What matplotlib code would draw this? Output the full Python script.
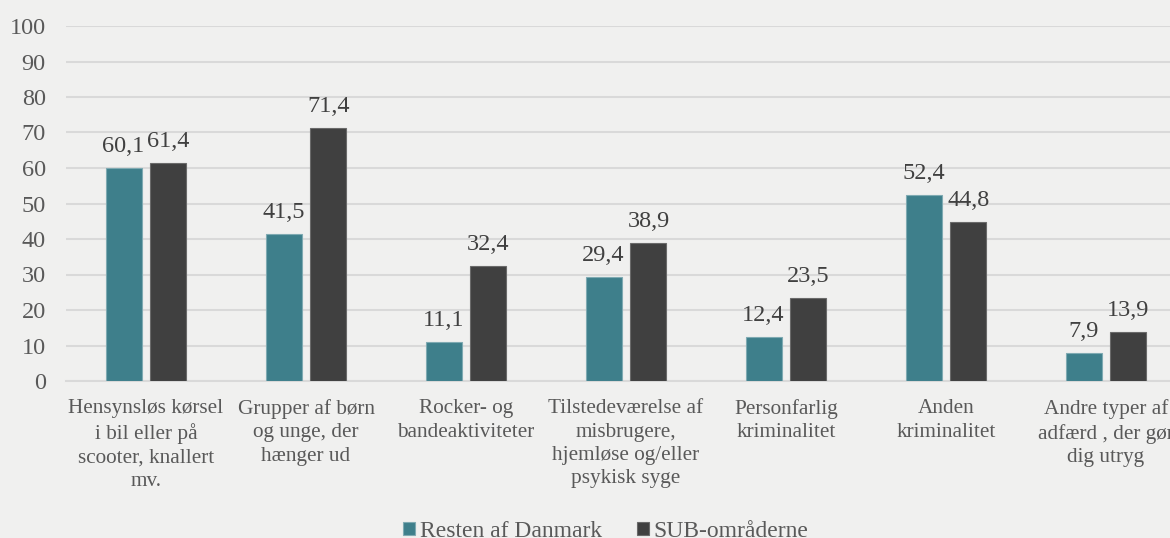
import matplotlib
matplotlib.use("Agg")
import matplotlib.pyplot as plt
import numpy as np

categories = [
    "Hensynsløs kørsel\ni bil eller på\nscooter, knallert\nmv.",
    "Grupper af børn\nog unge, der\nhænger ud",
    "Rocker- og\nbandeaktiviteter",
    "Tilstedeværelse af\nmisbrugere,\nhjemløse og/eller\npsykisk syge",
    "Personfarlig\nkriminalitet",
    "Anden\nkriminalitet",
    "Andre typer af\nadfærd , der gør\ndig utryg",
]
series_names = ["Resten af Danmark", "SUB-områderne"]
resten = [60.1, 41.5, 11.1, 29.4, 12.4, 52.4, 7.9]
sub = [61.4, 71.4, 32.4, 38.9, 23.5, 44.8, 13.9]
yticks = [0, 10, 20, 30, 40, 50, 60, 70, 80, 90, 100]

bg = "#F0F0EF"
teal = "#3E7F8B"
dark = "#404040"
txt = "#595959"

plt.rcParams["font.family"] = ["Liberation Serif", "DejaVu Serif"]

fig = plt.figure(figsize=(11.70, 5.38), dpi=100, facecolor=bg)
ax = fig.add_axes([66/1170, 157/538, 1120/1170, 355/538], facecolor=bg)

x = np.arange(len(categories))
w = 0.225
off = 0.1405
b1 = ax.bar(x - off, resten, w, color=teal, edgecolor="#7FAAB2", linewidth=0.8, label=series_names[0], zorder=3)
b2 = ax.bar(x + off, sub, w, color=dark, edgecolor="#6A6A6A", linewidth=0.8, label=series_names[1], zorder=3)

for bars, vals in ((b1, resten), (b2, sub)):
    for r, v in zip(bars, vals):
        ax.annotate(f"{v:.1f}".replace(".", ","), (r.get_x() + r.get_width()/2, v),
                    xytext=(0, 11.5), textcoords="offset points", ha="center", va="baseline",
                    fontsize=17.5, color="#404040")

ax.set_xlim(-0.5, len(categories) - 0.5)
ax.set_ylim(0, 100)
ax.set_yticks(yticks)
ax.set_yticklabels([str(t) for t in yticks], fontsize=17.5, color=txt)
ax.yaxis.grid(True, color="#D9D9D9", linewidth=1.5, zorder=0)
ax.set_axisbelow(True)
ax.set_xticks(x)
ax.set_xticklabels(categories, fontsize=15.3, color=txt, linespacing=1.32, va="top")
ax.tick_params(axis="both", length=0)
ax.tick_params(axis="x", pad=13)
ax.tick_params(axis="y", pad=14.5)
for s in ["top", "right", "left"]:
    ax.spines[s].set_visible(False)
ax.spines["bottom"].set_color("#D9D9D9")
ax.spines["bottom"].set_linewidth(1.5)

fig.legend(handles=[b1, b2], labels=series_names, loc="center", bbox_to_anchor=(606/1170, 0.012),
           ncol=2, frameon=False, fontsize=17, handlelength=0.5, handleheight=0.5,
           handletextpad=0.22, columnspacing=1.45, labelcolor=txt)

fig.savefig("out.png", dpi=100, facecolor=bg)
